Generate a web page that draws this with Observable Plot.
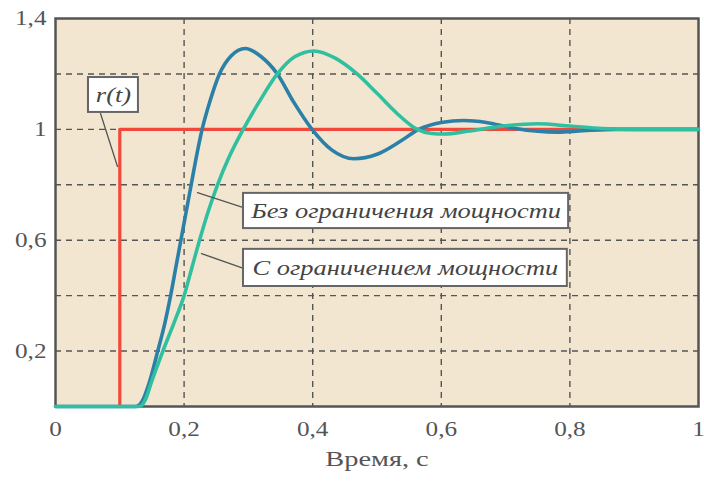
<!DOCTYPE html>
<html>
<head>
<meta charset="utf-8">
<script src="https://cdn.jsdelivr.net/npm/d3@7"></script>
<script src="https://cdn.jsdelivr.net/npm/@observablehq/plot@0.6"></script>
<style>
  html, body { margin: 0; padding: 0; background: #fff; }
  #chart { width: 704px; height: 492px; }
</style>
</head>
<body>
<div id="chart"></div>
<script>
// Reference signal r(t)
const refT = [0, 0.1, 0.1, 1.0];
const refV = [0, 0, 1, 1];

// "Без ограничения мощности"
const freeT = [0, 0.125, 0.135, 0.145, 0.159, 0.17, 0.179, 0.187, 0.195, 0.203, 0.211, 0.219, 0.228, 0.24, 0.255, 0.273, 0.295, 0.32, 0.345, 0.37, 0.399, 0.43, 0.464, 0.5, 0.535, 0.565, 0.6, 0.635, 0.67, 0.71, 0.75, 0.78, 0.82, 0.87, 1.0];
const freeV = [0, 0, 0.02, 0.08, 0.2, 0.3, 0.4, 0.5, 0.6, 0.7, 0.8, 0.9, 1.0, 1.1, 1.2, 1.265, 1.292, 1.262, 1.2, 1.1, 1.0, 0.925, 0.894, 0.91, 0.955, 1.0, 1.025, 1.032, 1.025, 1.005, 0.993, 0.99, 0.995, 1.0, 1.0];

// "С ограничением мощности"
const limT = [0, 0.13, 0.14, 0.148, 0.167, 0.184, 0.2, 0.212, 0.224, 0.237, 0.252, 0.27, 0.292, 0.317, 0.345, 0.372, 0.402, 0.435, 0.469, 0.5, 0.53, 0.5625, 0.585, 0.605, 0.64, 0.7, 0.75, 0.8, 0.85, 0.9, 1.0];
const limV = [0, 0, 0.025, 0.08, 0.2, 0.3, 0.4, 0.5, 0.6, 0.7, 0.8, 0.9, 1.0, 1.1, 1.2, 1.262, 1.283, 1.257, 1.2, 1.13, 1.06, 1.0, 0.985, 0.983, 0.993, 1.013, 1.02, 1.012, 1.003, 1.0, 1.0];

// Axis ticks
const xTicks = [0, 0.2, 0.4, 0.6, 0.8, 1];
const yTicks = [0.2, 0.6, 1, 1.4];
const xGrid = [0.2, 0.4, 0.6, 0.8];
const yGrid = [0.2, 0.4, 0.6, 0.8, 1.0, 1.2];
const xLabel = "Время, с";

// Annotation labels
const labelText = ["r(t)", "Без ограничения мощности", "С ограничением мощности"];
const labelX1 = [0.0513, 0.2924, 0.2924];
const labelX2 = [0.129, 0.798, 0.796];
const labelY1 = [1.061, 0.642, 0.433];
const labelY2 = [1.187, 0.769, 0.567];
const arrowX1 = [0.070, 0.2924, 0.2924];
const arrowY1 = [1.057, 0.718, 0.498];
const arrowX2 = [0.0964, 0.2208, 0.227];
const arrowY2 = [0.866, 0.772, 0.552];
const arrowBend = [-45, 0, 0];

const toRows = (T, V) => T.map((t, i) => ({t, v: V[i]}));
const refRows = toRows(refT, refV);
const freeRows = toRows(freeT, freeV);
const limRows = toRows(limT, limV);
const labels = labelText.map((s, i) => ({s, x1: labelX1[i], x2: labelX2[i], y1: labelY1[i], y2: labelY2[i], xm: (labelX1[i] + labelX2[i]) / 2, ym: (labelY1[i] + labelY2[i]) / 2}));
const arrows = arrowX1.map((x, i) => ({x1: x, y1: arrowY1[i], x2: arrowX2[i], y2: arrowY2[i], bend: arrowBend[i]}));

const fmt = d => String(d).replace(".", ",");
const serif = "Liberation Serif";
const gridStyle = {stroke: "#555", strokeWidth: 1.4, strokeDasharray: "6,5", strokeOpacity: 1};

const plot = Plot.plot({
  width: 704,
  height: 492,
  marginLeft: 55,
  marginRight: 6,
  marginTop: 18,
  marginBottom: 86,
  style: {fontFamily: serif, fontSize: "20px", color: "#555", background: "#fff"},
  x: {domain: [0, 1]},
  y: {domain: [0, 1.4]},
  marks: [
    Plot.frame({fill: "#f3e6d1", stroke: null}),
    Plot.ruleX(xGrid, {...gridStyle}),
    Plot.ruleY(yGrid, {...gridStyle}),
    Plot.axisX(xTicks, {tickSize: 0, tickPadding: 15, tickFormat: fmt, fontSize: 21, fontFamily: serif, fill: "#555", label: null}),
    Plot.axisY(yTicks, {tickSize: 0, tickPadding: 9, tickFormat: fmt, fontSize: 21, fontFamily: serif, fill: "#555", label: null}),
    Plot.text([xLabel], {frameAnchor: "bottom", dy: 59, text: d => d, fontSize: 21, fontFamily: serif, fill: "#555"}),
    Plot.frame({stroke: "#555", strokeWidth: 2.5}),
    Plot.line(refRows, {x: "t", y: "v", stroke: "#f4473b", strokeWidth: 3.2}),
    Plot.line(freeRows, {x: "t", y: "v", stroke: "#2b80a8", strokeWidth: 3.6, curve: "monotone-x"}),
    Plot.line(limRows, {x: "t", y: "v", stroke: "#30bf9f", strokeWidth: 3.6, curve: "monotone-x"}),
    Plot.arrow(arrows, {x1: "x1", y1: "y1", x2: "x2", y2: "y2", bend: d => d.bend, stroke: "#555", strokeWidth: 1.3, headLength: 11}),
    Plot.rect(labels, {x1: "x1", x2: "x2", y1: "y1", y2: "y2", fill: "#fff", stroke: "#666", strokeWidth: 2}),
    Plot.text(labels, {x: "xm", y: "ym", text: "s", fontSize: 22, fontFamily: serif, fontStyle: "italic", fill: "#444"})
  ]
});
document.getElementById("chart").appendChild(plot);

// The reference typeface is set wide: stretch each text horizontally.
const stretchFor = s => labelText.includes(s) ? 1.2 : s === xLabel ? 1.35 : 1.2;
plot.querySelectorAll("text").forEach(t => {
  const s = t.textContent;
  const len = t.getComputedTextLength();
  if (len > 0) {
    t.setAttribute("textLength", (len * stretchFor(s)).toFixed(1));
    t.setAttribute("lengthAdjust", "spacingAndGlyphs");
  }
});
</script>
</body>
</html>
